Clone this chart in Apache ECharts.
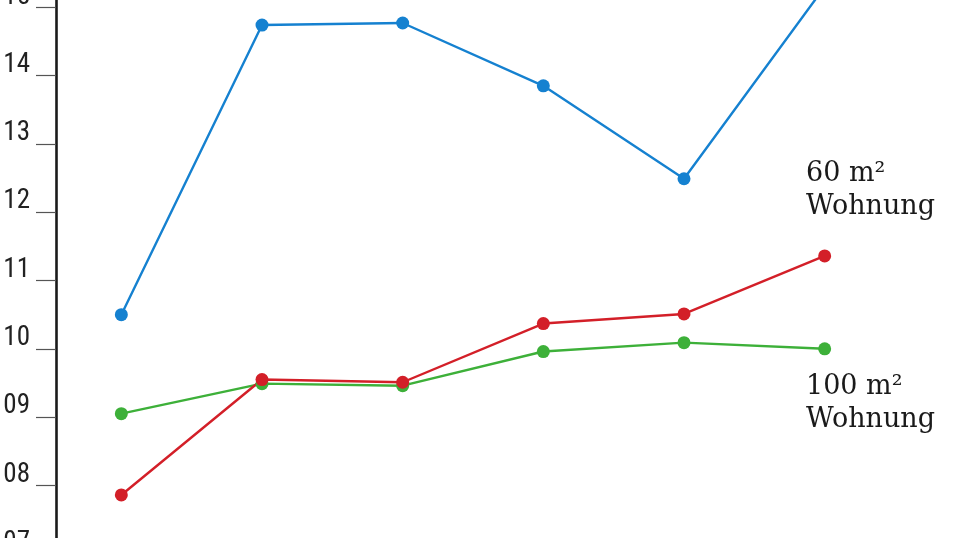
<!DOCTYPE html>
<html>
<head>
<meta charset="utf-8">
<script src="https://cdn.jsdelivr.net/npm/echarts@6/dist/echarts.min.js"></script>
<style>
html,body{margin:0;padding:0;background:#fff}
#chart{width:956px;height:538px}
</style>
</head>
<body>
<div id="chart"></div>
<script>
var categories = ['1', '2', '3', '4', '5', '6']
var blueValues = [10.5, 14.74, 14.77, 13.85, 12.49, 15.3]
var greenValues = [9.05, 9.49, 9.46, 9.96, 10.09, 10.0]
var redValues = [7.86, 9.55, 9.51, 10.37, 10.51, 11.36]
var yTickLabels = ['06', '07', '08', '09', '10', '11', '12', '13', '14', '15', '16']
var label60 = ['60 m²', 'Wohnung']
var label100 = ['100 m²', 'Wohnung']

var chart = echarts.init(document.getElementById('chart'))

function lineSeries(name, values, color){
    return {
        name: name,
        type: 'line',
        data: values,
        symbol: 'circle',
        symbolSize: 13,
        showSymbol: true,
        clip: false,
        animation: false,
        itemStyle: {color: color},
        lineStyle: {color: color, width: 2.4}
    }
}

chart.setOption({
    animation: false,
    grid: {left: 51, right: 61, top: -61, bottom: -84, containLabel: false, outerBoundsMode: 'none'},
    xAxis: {
        type: 'category',
        data: categories,
        boundaryGap: true,
        show: false
    },
    yAxis: {
        type: 'value',
        min: 6,
        max: 16,
        interval: 1,
        offset: -5,
        splitLine: {show: false},
        axisLine: {show: true, lineStyle: {color: '#1a1a1a', width: 2.6}},
        axisTick: {show: true, inside: false, length: 20, lineStyle: {color: '#555', width: 1.2}},
        axisLabel: {
            margin: 26,
            verticalAlign: 'bottom',
            lineHeight: 21,
            fontFamily: '"Liberation Sans Narrow", "Noto Sans Condensed", "Roboto Condensed", "DejaVu Sans Condensed", sans-serif',
            fontSize: 27,
            color: '#222',
            formatter: function(v){ return yTickLabels[v - 6] }
        }
    },
    series: [
        lineSeries('blau', blueValues, '#1581d0'),
        lineSeries('100 m² Wohnung', greenValues, '#3db039'),
        lineSeries('60 m² Wohnung', redValues, '#d31f28')
    ],
    graphic: [
        {
            type: 'text', left: 806, top: 157,
            style: {text: label60.join('\n'), font: '27px "DejaVu Serif", serif', fill: '#1a1a1a', lineHeight: 33}
        },
        {
            type: 'text', left: 806, top: 370,
            style: {text: label100.join('\n'), font: '27px "DejaVu Serif", serif', fill: '#1a1a1a', lineHeight: 33}
        }
    ]
})
</script>
</body>
</html>
